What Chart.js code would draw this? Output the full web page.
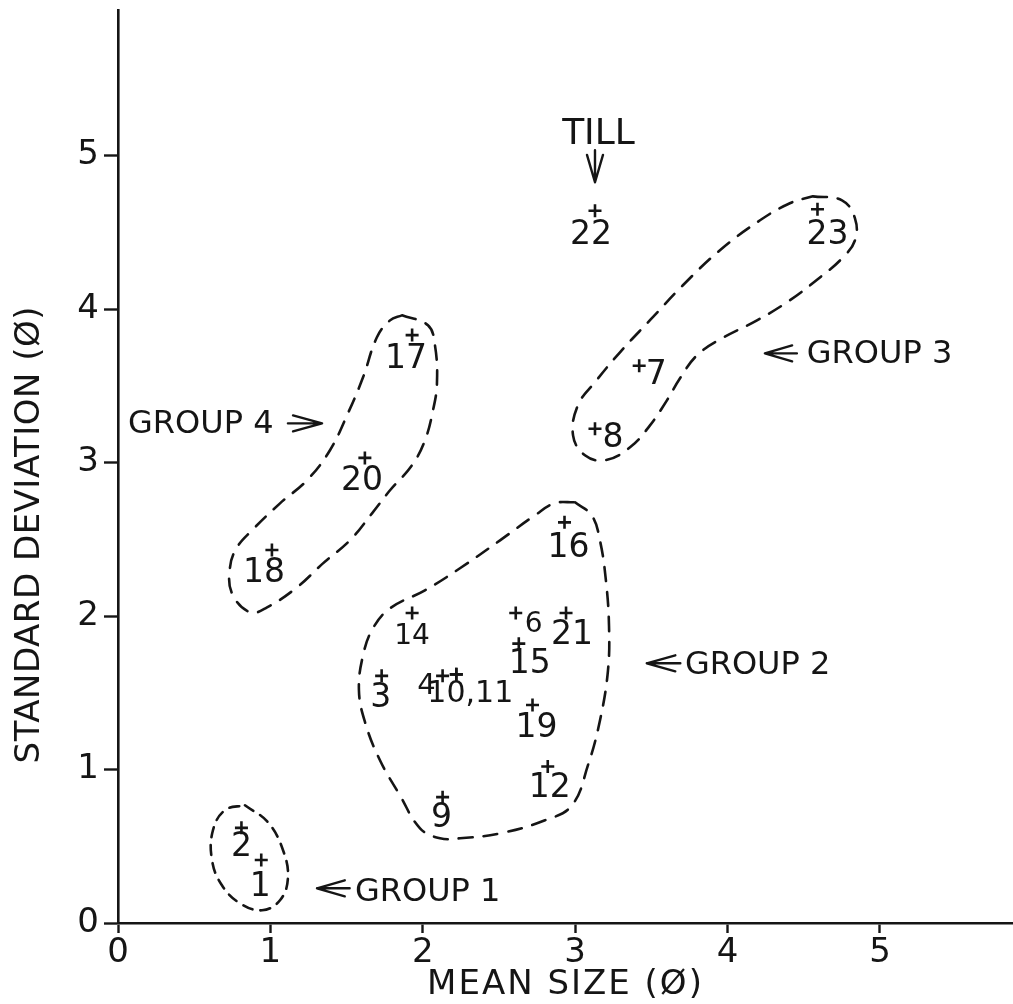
<!DOCTYPE html>
<html>
<head>
<meta charset="utf-8">
<script src="https://cdn.jsdelivr.net/npm/chart.js@4.4.1/dist/chart.umd.min.js"></script>
<style>html,body{margin:0;padding:0;background:#fff}canvas{display:block}</style>
</head>
<body>
<canvas id="c" width="1013" height="1004"></canvas>
<script>
// ---------------- data ----------------
const sampleIds = ['1','2','3','4','6','7','8','9','10','11','12','14','15','16','17','18','19','20','21','22','23'];
const meanSize  = [0.94,0.81,1.73,2.13,2.61,3.42,3.13,2.13,2.22,2.22,2.82,1.93,2.63,2.93,1.93,1.01,2.72,1.62,2.94,3.13,4.59];
const stdDev    = [0.41,0.62,1.61,1.61,2.02,3.63,3.22,0.82,1.62,1.62,1.02,2.02,1.82,2.61,3.83,2.43,1.42,3.03,2.02,4.64,4.65];
const xTicks = [0,1,2,3,4,5];
const yTicks = [0,1,2,3,4,5];
const xTitle = 'MEAN SIZE (Ø)';
const yTitle = 'STANDARD DEVIATION (Ø)';
const noteTexts = ['TILL','GROUP 1','GROUP 2','GROUP 3','GROUP 4'];

// group outlines (mean size, standard deviation)
const group1Outline = [[0.833,0.767],[0.984,0.656],[1.083,0.474],[1.115,0.292],[1.063,0.148],[0.945,0.083],[0.801,0.128],[0.682,0.246],[0.617,0.409],[0.623,0.604],[0.702,0.735]];
const group2Outline = [[2.999,2.741],[3.110,2.653],[3.163,2.490],[3.202,2.229],[3.222,1.936],[3.215,1.643],[3.163,1.321],[3.084,1.028],[2.979,0.767],[2.802,0.669],[2.507,0.584],[2.244,0.552],[2.113,0.552],[1.982,0.617],[1.850,0.832],[1.719,1.060],[1.621,1.308],[1.581,1.516],[1.608,1.744],[1.673,1.920],[1.785,2.050],[2.014,2.167],[2.244,2.311],[2.507,2.493],[2.736,2.656],[2.867,2.735]];
const group3Outline = [[4.560,4.734],[4.751,4.708],[4.836,4.591],[4.836,4.447],[4.751,4.330],[4.606,4.206],[4.409,4.057],[4.193,3.926],[3.963,3.809],[3.799,3.698],[3.688,3.549],[3.602,3.405],[3.491,3.242],[3.360,3.099],[3.196,3.015],[3.064,3.047],[2.986,3.177],[3.018,3.373],[3.130,3.523],[3.294,3.718],[3.491,3.927],[3.707,4.155],[3.950,4.383],[4.213,4.578],[4.409,4.689]];
const group4Outline = [[1.864,3.959],[2.034,3.894],[2.080,3.763],[2.093,3.515],[2.067,3.340],[2.014,3.144],[1.929,2.982],[1.785,2.819],[1.667,2.669],[1.522,2.493],[1.345,2.343],[1.175,2.187],[0.978,2.056],[0.866,2.024],[0.748,2.148],[0.735,2.317],[0.781,2.447],[0.879,2.558],[1.063,2.734],[1.240,2.884],[1.391,3.080],[1.509,3.321],[1.608,3.555],[1.699,3.816],[1.785,3.926]];

// ---------------- styling / layout ----------------
const INK = '#151515';
const FONT = '"DejaVu Sans", "Liberation Sans", sans-serif';
// label offsets in px relative to the marker: [dx, dy, fontSize]
const labelOffsets = {
  '1':[-1,27],'2':[0,20],'3':[-1,23],'4':[-16,11,29],'6':[18,12,28],'7':[17,10],'8':[18,10],'9':[-1,21],
  '10':[14,20,30],'12':[2,22],'14':[0,24,28],'15':[11,21],'16':[4,26],'17':[-6,24],'18':[-8,23],
  '19':[4,23],'20':[-3,24],'21':[6,22],'22':[-4,25],'23':[10,26]
};
const notePlacement = [
  {x:3.153, y:5.137, align:'center', size:36},
  {x:1.555, y:0.200, align:'left', size:32},
  {x:3.720, y:1.679, align:'left', size:32},
  {x:4.520, y:3.700, align:'left', size:32},
  {x:0.066, y:3.245, align:'left', size:32}
];
const arrowPlacement = [
  {tip:[3.13,4.826], tail:[3.13,5.035]},
  {tip:[1.306,0.226], tail:[1.52,0.226]},
  {tip:[3.47,1.692], tail:[3.69,1.692]},
  {tip:[4.245,3.711], tail:[4.455,3.711]},
  {tip:[1.339,3.255], tail:[1.115,3.255]}
];

function outlineDataset(pts, dash){
  const closed = pts.concat([pts[0]]);
  return {
    type:'scatter', showLine:true, data: closed.map(p=>({x:p[0], y:p[1]})),
    borderColor:INK, borderWidth:2.6, borderDash:dash, tension:0.4,
    pointRadius:0, pointHoverRadius:0, fill:false, borderCapStyle:'round'
  };
}

const annotPlugin = {
  id:'annot',
  beforeDraw(chart){
    const c = chart.ctx; c.save(); c.fillStyle='#fff'; c.fillRect(0,0,chart.width,chart.height); c.restore();
  },
  afterDraw(chart){
    const ctx = chart.ctx, xs = chart.scales.x, ys = chart.scales.y;
    const X = v=>xs.getPixelForValue(v), Y = v=>ys.getPixelForValue(v);
    ctx.save();
    ctx.fillStyle = INK; ctx.strokeStyle = INK; ctx.textBaseline = 'middle';
    // point labels (coincident samples are joined, e.g. "10,11")
    const done = new Set();
    sampleIds.forEach((id,i)=>{
      const key = meanSize[i]+'|'+stdDev[i];
      if (done.has(key)) return;
      done.add(key);
      const ids = sampleIds.filter((_,j)=>meanSize[j]===meanSize[i] && stdDev[j]===stdDev[i]);
      const o = labelOffsets[id] || [0,24];
      ctx.font = (o[2]||33)+'px '+FONT;
      ctx.textAlign = 'center';
      ctx.fillText(ids.join(','), X(meanSize[i])+o[0], Y(stdDev[i])+o[1]);
    });
    // notes
    noteTexts.forEach((t,i)=>{
      const p = notePlacement[i];
      ctx.font = p.size+'px '+FONT;
      ctx.textAlign = p.align;
      ctx.fillText(t, X(p.x), Y(p.y));
    });
    // arrows
    ctx.lineWidth = 2.4; ctx.lineCap = 'round'; ctx.lineJoin = 'round';
    arrowPlacement.forEach(a=>{
      const tx = X(a.tip[0]), ty = Y(a.tip[1]), bx = X(a.tail[0]), by = Y(a.tail[1]);
      const dx = bx-tx, dy = by-ty, len = Math.hypot(dx,dy);
      const ux = dx/len, uy = dy/len, px = -uy, py = ux;
      const L = len*0.85, s = 8;
      ctx.beginPath();
      ctx.moveTo(bx,by); ctx.lineTo(tx,ty);
      ctx.moveTo(tx+ux*L+px*s, ty+uy*L+py*s); ctx.lineTo(tx,ty); ctx.lineTo(tx+ux*L-px*s, ty+uy*L-py*s);
      ctx.stroke();
    });
    // axis titles
    const ca = chart.chartArea;
    ctx.font = '34px '+FONT;
    ctx.textAlign = 'center';
    ctx.letterSpacing = '2px';
    ctx.fillText(xTitle, (ca.left+ca.right)/2, ca.bottom+62);
    ctx.letterSpacing = '0.5px';
    ctx.translate(30, Y(2.53));
    ctx.rotate(-Math.PI/2);
    ctx.fillText(yTitle, 0, 0);
    ctx.restore();
  }
};

new Chart(document.getElementById('c'), {
  type:'scatter',
  data:{
    datasets:[
      outlineDataset(group1Outline,[10,8]),
      outlineDataset(group2Outline,[14,11]),
      outlineDataset(group3Outline,[14,11]),
      outlineDataset(group4Outline,[14,11]),
      {
        type:'scatter', data: meanSize.map((x,i)=>({x, y:stdDev[i]})),
        pointStyle:'cross', pointRadius:6.5, pointHoverRadius:6.5,
        borderColor:INK, backgroundColor:INK, borderWidth:2.6
      }
    ]
  },
  options:{
    responsive:false, animation:false, events:[],
    layout:{autoPadding:false, padding:{top:10,right:0,left:0,bottom:0}},
    plugins:{legend:{display:false}, tooltip:{enabled:false}},
    scales:{
      x:{
        type:'linear', min:0, max:5.873,
        afterBuildTicks:s=>{ s.ticks = xTicks.map(v=>({value:v})); },
        afterFit:s=>{ s.height = 81; s.paddingLeft = 0; s.paddingRight = 0; },
        grid:{drawOnChartArea:false, drawTicks:true, tickLength:10, tickWidth:2.4, tickColor:INK},
        border:{display:true, color:INK, width:2.6},
        ticks:{color:INK, font:{family:FONT, size:34}, padding:0, maxRotation:0, autoSkip:false}
      },
      y:{
        type:'linear', min:0, max:5.948,
        afterBuildTicks:s=>{ s.ticks = yTicks.map(v=>({value:v})); },
        afterFit:s=>{ s.width = 118; s.paddingTop = 0; s.paddingBottom = 0; },
        grid:{drawOnChartArea:false, drawTicks:true, tickLength:14, tickWidth:2.4, tickColor:INK},
        border:{display:true, color:INK, width:2.6},
        ticks:{color:INK, font:{family:FONT, size:34}, padding:5, autoSkip:false}
      }
    }
  },
  plugins:[annotPlugin]
});
</script>
</body>
</html>
